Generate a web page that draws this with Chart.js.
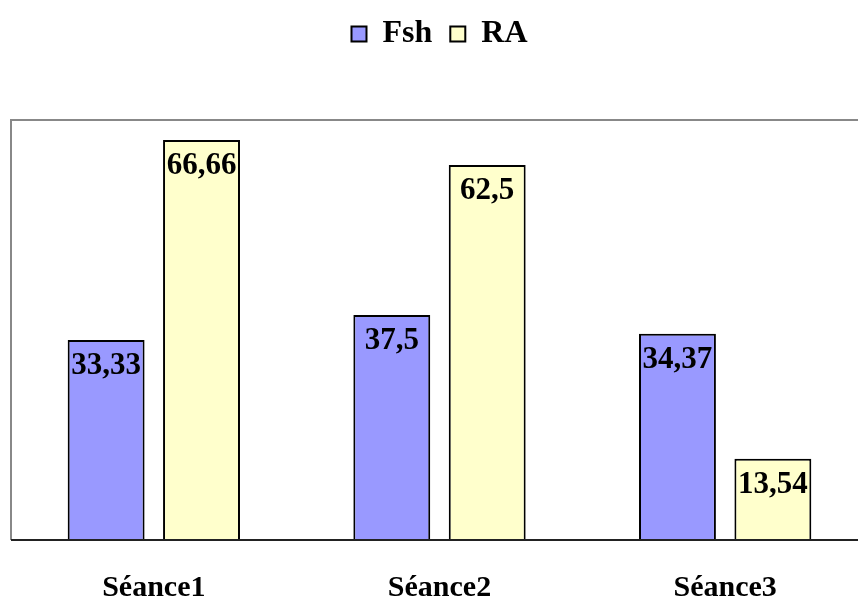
<!DOCTYPE html>
<html>
<head>
<meta charset="utf-8">
<script src="https://cdn.jsdelivr.net/npm/chart.js@4/dist/chart.umd.min.js"></script>
<style>
html,body{margin:0;padding:0;background:#fff;overflow:hidden;}
#wrap{position:absolute;left:0;top:0;width:870px;height:599px;}
</style>
</head>
<body>
<div id="wrap"><canvas id="c" width="870" height="599"></canvas></div>
<script>
const categories = ["Séance1", "Séance2", "Séance3"];
const fshValues = [33.33, 37.5, 34.37];
const raValues = [66.66, 62.5, 13.54];
const fshLabels = ["33,33", "37,5", "34,37"];
const raLabels = ["66,66", "62,5", "13,54"];

const FONT = "'Liberation Serif', 'Times New Roman', serif";

const frame = {
  id: 'frame',
  beforeDatasetsDraw(chart) {
    const {ctx, chartArea: a} = chart;
    ctx.save();
    ctx.strokeStyle = '#888888';
    ctx.lineWidth = 2;
    ctx.beginPath();
    ctx.moveTo(a.left, a.bottom);
    ctx.lineTo(a.left, a.top);
    ctx.lineTo(a.right + 10, a.top);
    ctx.stroke();
    ctx.restore();
  },
  afterDatasetsDraw(chart) {
    const {ctx, chartArea: a} = chart;
    ctx.save();
    ctx.strokeStyle = '#222222';
    ctx.lineWidth = 2;
    ctx.beginPath();
    ctx.moveTo(a.left, a.bottom);
    ctx.lineTo(a.right + 10, a.bottom);
    ctx.stroke();
    ctx.restore();
  }
};

const barLabels = {
  id: 'barLabels',
  afterDatasetsDraw(chart) {
    const {ctx} = chart;
    ctx.save();
    ctx.font = "bold 31px " + FONT;
    ctx.fillStyle = '#000';
    ctx.textAlign = 'center';
    ctx.textBaseline = 'alphabetic';
    chart.data.datasets.forEach((ds, di) => {
      const meta = chart.getDatasetMeta(di);
      meta.data.forEach((bar, i) => {
        ctx.fillText(ds.labelsText[i], bar.x, bar.y + 34);
      });
    });
    ctx.restore();
  }
};

new Chart(document.getElementById('c'), {
  type: 'bar',
  data: {
    labels: categories,
    datasets: [
      { label: 'Fsh', data: fshValues, labelsText: fshLabels,
        backgroundColor: '#9999FF', borderColor: '#000000', borderWidth: 2 },
      { label: 'RA', data: raValues, labelsText: raLabels,
        backgroundColor: '#FFFFCC', borderColor: '#000000', borderWidth: 2 }
    ]
  },
  options: {
    responsive: false,
    animation: false,
    devicePixelRatio: 1,
    layout: { padding: { left: 11, right: 2, top: 0, bottom: 0 } },
    categoryPercentage: 0.668,
    barPercentage: 0.806,
    plugins: {
      legend: {
        display: true,
        position: 'top',
        labels: {
          color: '#000',
          font: { family: FONT, size: 32, weight: 'bold' },
          boxWidth: 15, boxHeight: 15,
          padding: 18
        }
      },
      title: {
        display: true,
        text: ' ',
        weight: 500,
        font: { size: 10, lineHeight: 1 },
        padding: { top: 0, bottom: 50 }
      },
      tooltip: { enabled: false }
    },
    scales: {
      x: {
        grid: { display: false, drawTicks: false },
        border: { display: false },
        ticks: { color: '#000', font: { family: FONT, size: 30, weight: 'bold' }, padding: 30 },
        afterFit(s) { s.height = 59; }
      },
      y: {
        display: false,
        min: 0, max: 70
      }
    }
  },
  plugins: [frame, barLabels]
});
</script>
</body>
</html>
